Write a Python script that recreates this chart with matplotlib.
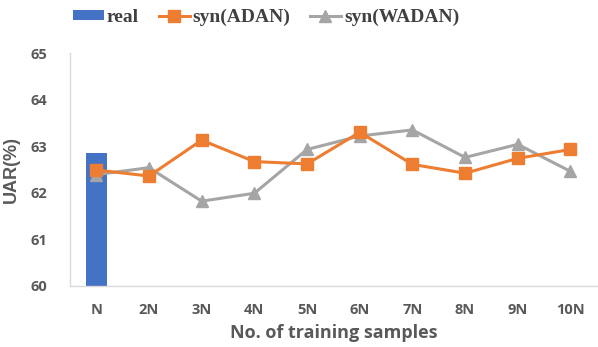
import matplotlib
matplotlib.use("Agg")
import matplotlib.pyplot as plt
import numpy as np

categories = ["N", "2N", "3N", "4N", "5N", "6N", "7N", "8N", "9N", "10N"]
real = [62.85]
syn_adan = [62.49, 62.36, 63.13, 62.67, 62.62, 63.30, 62.61, 62.42, 62.74, 62.93]
syn_wadan = [62.39, 62.54, 61.82, 61.99, 62.93, 63.22, 63.35, 62.76, 63.04, 62.46]

tick_color = "#595959"

fig = plt.figure(figsize=(5.98, 3.47), dpi=100)
ax = fig.add_axes([0.117, 0.176, 0.881, 0.671])

x = np.arange(len(categories))
bar = ax.bar(x[:1], [v - 60 for v in real], bottom=60, width=0.4, color="#4472C4", label="real", zorder=1)
l1, = ax.plot(x, syn_adan, color="#ED7D31", linewidth=2.2, marker="s", markersize=8, label="syn(ADAN)", zorder=3)
l2, = ax.plot(x, syn_wadan, color="#A5A5A5", linewidth=2.2, marker="^", markersize=9, label="syn(WADAN)", zorder=2)

ax.set_xlim(-0.5, len(categories) - 0.5)
ax.set_ylim(60, 65)
ax.set_yticks([60, 61, 62, 63, 64, 65])
ax.set_xticks(x)
ax.set_xticklabels(categories)
for lab in ax.get_xticklabels() + ax.get_yticklabels():
    lab.set_fontfamily("Open Sans")
    lab.set_fontweight("bold")
    lab.set_fontsize(10.5)
    lab.set_color(tick_color)
ax.tick_params(length=0)
ax.tick_params(axis="x", pad=12)
ax.tick_params(axis="y", pad=16)

for side in ("top", "right"):
    ax.spines[side].set_visible(False)
for side in ("left", "bottom"):
    ax.spines[side].set_color("#D9D9D9")
    ax.spines[side].set_linewidth(1.0)

ax.set_ylabel("UAR(%)", fontsize=13, fontweight="bold", color=tick_color, family="Liberation Sans")
ax.yaxis.set_label_coords(-0.095, 0.5)
ax.set_xlabel("No. of training samples", fontsize=13, fontweight="bold", color=tick_color, family="Open Sans", labelpad=5)

fig.legend(handles=[bar, l1, l2], labels=["real", "syn(ADAN)", "syn(WADAN)"],
           loc="upper center", bbox_to_anchor=(0.445, 1.025), ncol=3, frameon=False,
           prop={"family": "Liberation Serif", "weight": "bold", "size": 14},
           handlelength=1.6, handleheight=0.45, columnspacing=1.0, handletextpad=0.15, labelcolor="#404040")

fig.savefig("out.png", dpi=100)
